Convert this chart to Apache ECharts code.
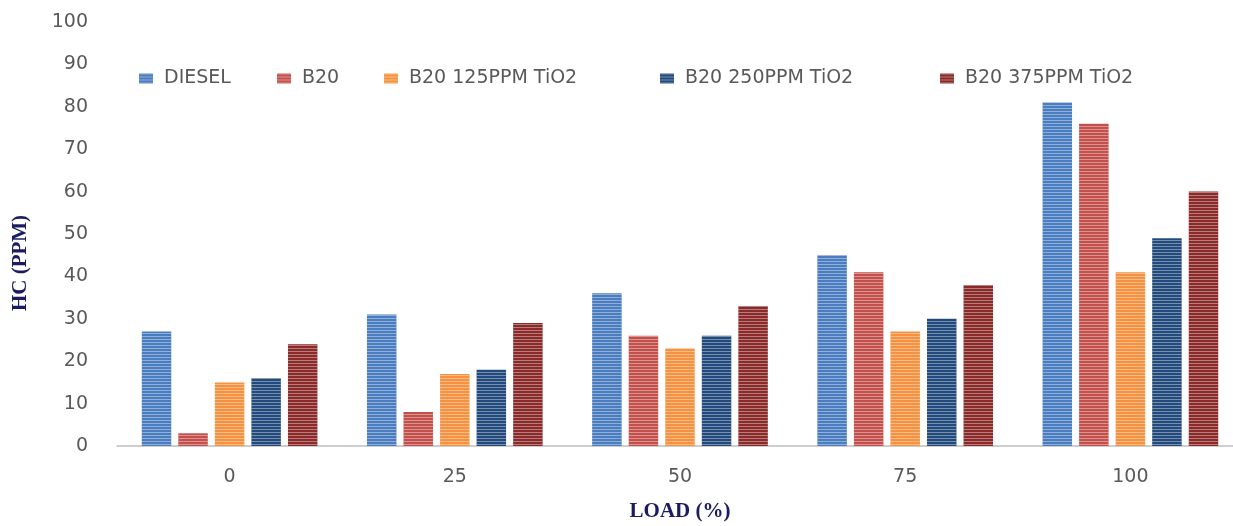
<!DOCTYPE html>
<html>
<head>
<meta charset="utf-8">
<script src="https://cdn.jsdelivr.net/npm/echarts@6/dist/echarts.min.js"></script>
<style>
html,body{margin:0;padding:0;background:#fff;}
#chart{width:1233px;height:526px;}
</style>
</head>
<body>
<div id="chart"></div>
<script>
const categories = ['0', '25', '50', '75', '100'];
const seriesNames = ['DIESEL', 'B20', 'B20 125PPM TiO2', 'B20 250PPM TiO2', 'B20 375PPM TiO2'];
const diesel = [27, 31, 36, 45, 81];
const b20 = [3, 8, 26, 41, 76];
const b20_125 = [15, 17, 23, 27, 41];
const b20_250 = [16, 18, 26, 30, 49];
const b20_375 = [24, 29, 33, 38, 60];
const yTicks = { min: 0, max: 100, interval: 10 };
const xTitle = 'LOAD (%)';
const yTitle = 'HC (PPM)';

const values = [diesel, b20, b20_125, b20_250, b20_375];
const colors = ['#4a7cc0', '#c4504c', '#f6923f', '#234a7c', '#8a2b2a'];
const legendLeft = [139, 277, 384, 660, 940];

const chart = echarts.init(document.getElementById('chart'));
const labelFont = 'DejaVu Sans';
const titleColor = '#1b1b63';

const option = {
  backgroundColor: '#ffffff',
  animation: false,
  aria: { enabled: true, decal: { show: true } },
  legend: seriesNames.map((n, i) => ({
    data: [n],
    left: legendLeft[i],
    top: 69,
    padding: 0,
    itemWidth: 14,
    itemHeight: 10,
    icon: 'rect',
    itemGap: 0,
    textStyle: { color: '#595959', fontSize: 19, fontFamily: labelFont, padding: [0, 0, 0, 6] }
  })),
  grid: { left: 117, width: 1126, top: 22, bottom: 80, containLabel: false, outerBoundsMode: 'none' },
  xAxis: {
    type: 'category',
    data: categories,
    name: xTitle,
    nameLocation: 'middle',
    nameGap: 55,
    nameTextStyle: { fontFamily: 'Liberation Serif', fontWeight: 'bold', fontSize: 21, color: titleColor },
    axisLine: { show: true, lineStyle: { color: '#bfbfbf', width: 1.5 } },
    axisTick: { show: false },
    axisLabel: { color: '#595959', fontSize: 19, fontFamily: labelFont, margin: 22 }
  },
  yAxis: {
    type: 'value',
    min: yTicks.min,
    max: yTicks.max,
    interval: yTicks.interval,
    name: yTitle,
    nameLocation: 'middle',
    nameGap: 86,
    nameTextStyle: { fontFamily: 'Liberation Serif', fontWeight: 'bold', fontSize: 21, color: titleColor, padding: [0, 58, 0, 0] },
    axisLine: { show: false },
    axisTick: { show: false },
    splitLine: { show: false },
    axisLabel: { color: '#595959', fontSize: 19, fontFamily: labelFont, margin: 29 }
  },
  series: seriesNames.map((n, i) => ({
    name: n,
    type: 'bar',
    data: values[i],
    barGap: '24%',
    barCategoryGap: '22%',
    itemStyle: {
      color: colors[i],
      decal: {
        symbol: 'rect',
        color: 'rgba(255,255,255,0.38)',
        dashArrayX: [1, 0],
        dashArrayY: [1, 2],
        symbolSize: 1,
        rotation: 0
      }
    }
  }))
};
chart.setOption(option);
</script>
</body>
</html>
